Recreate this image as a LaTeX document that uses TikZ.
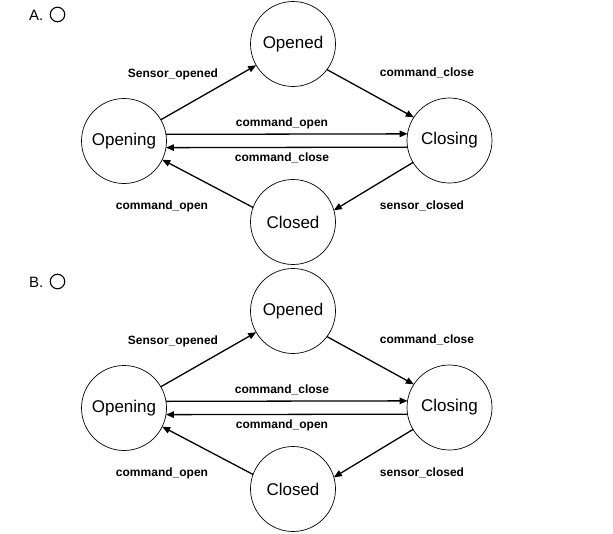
\documentclass[tikz,border=0pt]{standalone}
\usepackage{fontspec}
\setmainfont{Liberation Sans}
\usetikzlibrary{arrows.meta}
\newcommand\mystatediagram[3]{%
  \begin{scope}[shift={(0,#1)}, name prefix=#2-]
    \node[state] (opened)  at (293,44)    {Opened};
    \node[state] (opening) at (124,141)   {Opening};
    \node[state] (closing) at (449.5,140.5) {Closing};
    \node[state] (closed)  at (293,222)   {Closed};
    \draw[trans] (opening.30) -- (opened.210);
    \draw[trans] (opened.323) -- (closing.147);
    \draw[trans] (opening.9) -- (closing.171);
    \draw[trans] (closing.189) -- (opening.351);
    \draw[trans] (closing.211) -- (closed.16);
    \draw[trans] (closed.160) -- (opening.334);
    \node[lbl] (l1) at (173,74)  {Sensor\_opened};
    \node[lbl] (l2) at (427,73)  {command\_close};
    \node[lbl] (l3) at (282,123) {#3};
    \node[lbl] (l4) at (282,158) {\ifx#3\cmdopen command\_close\else command\_open\fi};
    \node[lbl] (l5) at (162,206) {command\_open};
    \node[lbl] (l6) at (422,206) {sensor\_closed};
  \end{scope}}
\begin{document}
\begin{tikzpicture}[x=1pt,y=-1pt,
  state/.style={circle, draw, line width=0.7pt, minimum size=85pt, inner sep=0pt, outer sep=0pt, font=\fontsize{17}{20}\selectfont},
  trans/.style={line width=1.3pt, -{Triangle[length=8pt,width=6.5pt]}},
  lbl/.style={font=\bfseries\fontsize{12}{14}\selectfont, inner sep=0pt},
  opt/.style={font=\fontsize{15}{18}\selectfont, inner sep=0pt},
  optbox/.style={circle, draw, line width=1.1pt, minimum size=14.5pt, inner sep=0pt}]
  \useasboundingbox (0,0) rectangle (613,533);
  \def\cmdopen{command\_open}
  \def\cmdclose{command\_close}
  \node[opt, anchor=west] (tagA) at (29,15) {A.};
  \node[optbox] (boxA) at (57.5,14.5) {};
  \mystatediagram{0}{a}{\cmdopen}
  \node[opt, anchor=west] (tagB) at (29,282) {B.};
  \node[optbox] (boxB) at (57.5,281.5) {};
  \mystatediagram{267}{b}{\cmdclose}
\end{tikzpicture}
\end{document}
